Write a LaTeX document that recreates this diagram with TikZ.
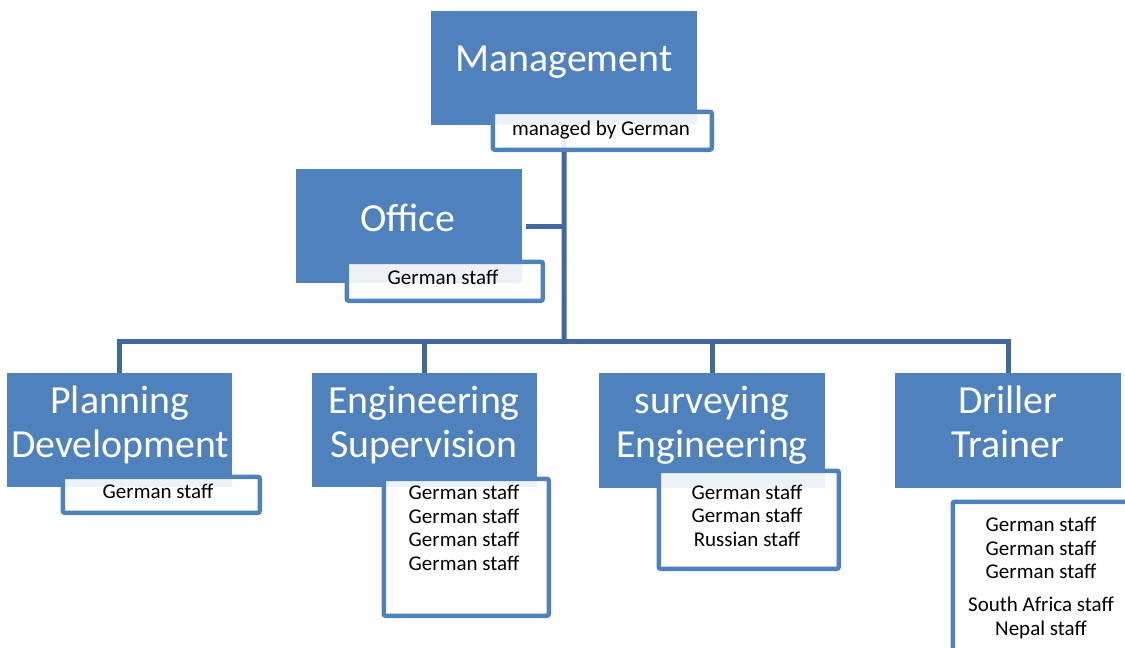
\documentclass[tikz,border=0pt]{standalone}
\usepackage{fontspec}
\setmainfont{Carlito}
\definecolor{boxblue}{HTML}{4F81BD}
\definecolor{linkblue}{HTML}{41699C}
\begin{document}
\begin{tikzpicture}[x=1pt,y=-1pt,
  bigbox/.style={fill=boxblue, draw=none, inner sep=0, anchor=north west},
  subbox/.style={draw=boxblue, line width=4.5pt, rounded corners=2pt, fill=white, fill opacity=0.9, inner sep=0, anchor=north west},
  bigtext/.style={text=white, font=\fontsize{39.8}{44}\selectfont, align=center, anchor=base, inner sep=0},
  smalltext/.style={text=black, font=\fontsize{21}{23.5}\selectfont, align=center, anchor=base, inner sep=0},
  link/.style={draw=linkblue, line width=5pt}]
\clip (0,0) rectangle (1125,648);
% main boxes
\node[bigbox, minimum width=266pt, minimum height=114pt] (mgmt) at (431,11) {};
\node[bigbox, minimum width=226pt, minimum height=114pt] (office) at (296,169) {};
\node[bigbox, minimum width=225pt, minimum height=114pt] (plan) at (7,373) {};
\node[bigbox, minimum width=225pt, minimum height=114pt] (eng) at (312,373) {};
\node[bigbox, minimum width=226pt, minimum height=115pt] (surv) at (599,373) {};
\node[bigbox, minimum width=226pt, minimum height=115pt] (drill) at (895,373) {};
% connectors
\coordinate (trunk) at (564,341);
\draw[link] (mgmt.south) -- (trunk);
\draw[link] (plan.north) |- (trunk) -| (drill.north);
\draw[link] (eng.north) -- (eng.north |- trunk);
\draw[link] (surv.north) -- (surv.north |- trunk);
\draw[link] ([xshift=4pt]office.east) -- (office.east -| trunk);
% sub boxes
\node[subbox, minimum width=219pt, minimum height=38pt] (mgmtS) at (490.5,109.5) {};
\node[subbox, minimum width=196pt, minimum height=39pt] (officeS) at (344.5,259.5) {};
\node[subbox, minimum width=197pt, minimum height=36pt] (planS) at (60.5,474.5) {};
\node[subbox, minimum width=165pt, minimum height=137pt] (engS) at (381.5,476.5) {};
\node[subbox, minimum width=180pt, minimum height=98pt] (survS) at (656.5,468.5) {};
\node[subbox, minimum width=200pt, minimum height=190pt] (drillS) at (950.5,499.5) {};
% texts (anchor base = last line's baseline)
\node[bigtext] (mgmtT) at (564,71) {Management};
\node[bigtext] (officeT) at (408,231) {Office};
\node[bigtext] (planT) at (120,457) {Planning\\Development};
\node[bigtext] (engT) at (424,457) {Engineering\\Supervision};
\node[bigtext] (survT) at (712,457) {surveying\\Engineering};
\node[bigtext] (drillT) at (1008,457) {Driller\\Trainer};
\node[smalltext] (mgmtST) at (601,135) {managed by German};
\node[smalltext] (officeST) at (443,284) {German staff};
\node[smalltext] (planST) at (158,498) {German staff};
\node[smalltext] (engST) at (464,570) {German staff\\German staff\\German staff\\German staff};
\node[smalltext] (survST) at (747,546) {German staff\\German staff\\Russian staff};
\node[smalltext] (drillST) at (1041,635) {German staff\\German staff\\German staff\\[9.5pt]South Africa staff\\Nepal staff};
\end{tikzpicture}
\end{document}
